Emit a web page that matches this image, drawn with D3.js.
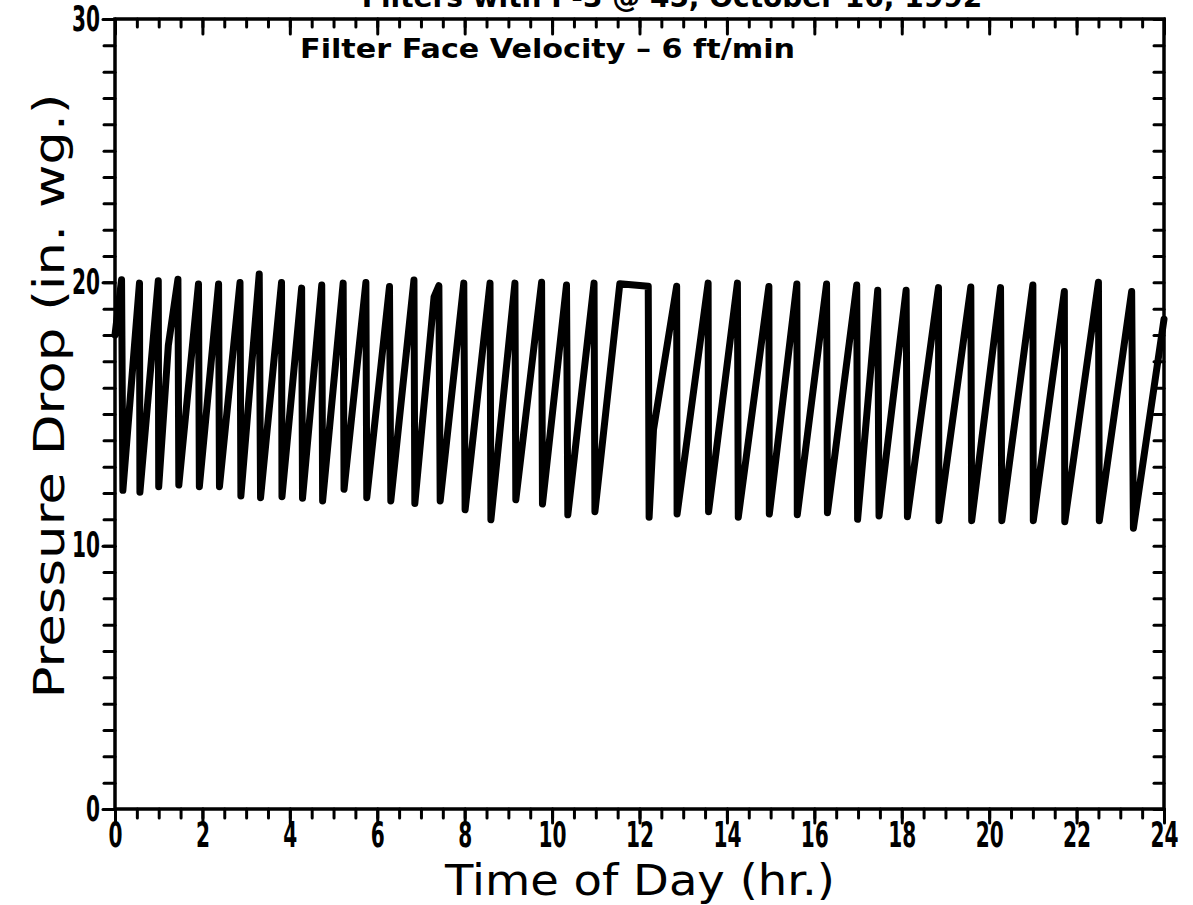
<!DOCTYPE html>
<html>
<head>
<meta charset="utf-8">
<script src="https://cdn.jsdelivr.net/npm/d3@7"></script>
<style>
  body { margin: 0; background: #fff; }
  svg { display: block; }
  .tick text { font-family: "DejaVu Sans", sans-serif; font-weight: bold; }
</style>
</head>
<body>
<svg id="chart" width="1193" height="905"></svg>
<script>
// readings: time of day (hr) and pressure drop (in. wg.)
var hours = [
  0, 0.15, 0.18, 0.56, 0.57, 0.99, 1.0, 1.22, 1.44, 1.46, 1.91, 1.93, 2.37, 2.39,
  2.86, 2.88, 3.30, 3.33, 3.81, 3.82, 4.27, 4.29, 4.73, 4.75, 5.22, 5.24, 5.74, 5.76,
  6.28, 6.31, 6.84, 6.86, 7.30, 7.41, 7.44, 7.98, 8.01, 8.58, 8.60, 9.15, 9.17,
  9.76, 9.78, 10.33, 10.36, 10.96, 10.98, 11.55, 12.20, 12.22, 12.32, 12.85, 12.86,
  13.57, 13.58, 14.24, 14.26, 14.96, 14.97, 15.60, 15.61, 16.28, 16.30, 16.97, 16.99,
  17.31, 17.45, 17.48, 18.10, 18.13, 18.84, 18.85, 19.58, 19.60, 20.26, 20.29,
  21.00, 21.01, 21.72, 21.73, 22.50, 22.52, 23.26, 23.30, 24
];
var pressure = [
  18.0, 20.1, 12.1, 19.97, 12.03, 20.06, 12.24, 17.6, 20.12, 12.3, 19.94, 12.24, 19.94, 12.24,
  19.99, 11.89, 20.32, 11.82, 19.99, 11.86, 19.78, 11.8, 19.9, 11.7, 19.97, 12.14, 19.99, 11.82,
  19.84, 11.7, 20.09, 11.6, 19.45, 19.87, 11.7, 19.97, 11.36, 19.97, 10.98, 19.97, 11.74,
  20.0, 11.58, 19.9, 11.17, 19.97, 11.29, 19.95, 19.85, 11.08, 14.4, 19.85, 11.2,
  19.97, 11.29, 19.97, 11.08, 19.84, 11.2, 19.94, 11.17, 19.94, 11.25, 19.9, 11.0,
  17.05, 19.7, 11.13, 19.7, 11.1, 19.8, 10.95, 19.82, 10.95, 19.8, 10.95,
  19.9, 10.95, 19.65, 10.91, 20.0, 10.95, 19.65, 10.66, 18.6
];

var xMajor = d3.range(0, 25, 2);
var xMinor = d3.range(0, 24.01, 0.5);
var yMajor = [0, 10, 20, 30];
var yMinor = d3.range(0, 31, 1);

var title = "Filters with P-3 @ 45, October 16, 1992";
var note = "Filter Face Velocity \u2013 6 ft/min";
var xTitle = "Time of Day (hr.)";
var yTitle = "Pressure Drop (in. wg.)";

const svg = d3.select("#chart");

const x = d3.scaleLinear().domain([0, 24]).range([115, 1164]);
const y = d3.scaleLinear().domain([0, 30]).range([809, 19]);

function styleAxis(g) {
  g.select(".domain").remove();
  g.selectAll(".tick line").attr("stroke", "#000").attr("stroke-width", 3)
    .attr("stroke-linecap", "round");
  // squeeze the digits, the original face is tall and narrow
  g.selectAll(".tick text").attr("fill", "#000").attr("font-size", 35)
    .attr("lengthAdjust", "spacingAndGlyphs")
    .attr("textLength", function() { return this.textContent.length ? 14 * this.textContent.length : null; });
}

// bottom: ticks hang down, labels under them
svg.append("g").attr("transform", "translate(0,809)")
  .call(d3.axisBottom(x).tickValues(xMinor).tickSize(9).tickFormat(""))
  .call(styleAxis);
svg.append("g").attr("transform", "translate(0,809)")
  .call(d3.axisBottom(x).tickValues(xMajor).tickSize(14).tickPadding(-1).tickFormat(d3.format("d")))
  .call(styleAxis);

// top: ticks go down into the plot
svg.append("g").attr("transform", "translate(0,19)")
  .call(d3.axisTop(x).tickValues(xMinor).tickSize(-8).tickFormat(""))
  .call(styleAxis);
svg.append("g").attr("transform", "translate(0,19)")
  .call(d3.axisTop(x).tickValues(xMajor).tickSize(-15).tickFormat(""))
  .call(styleAxis);

// left: ticks outside
svg.append("g").attr("transform", "translate(115,0)")
  .call(d3.axisLeft(y).tickValues(yMinor).tickSize(11).tickFormat(""))
  .call(styleAxis);
svg.append("g").attr("transform", "translate(115,0)")
  .call(d3.axisLeft(y).tickValues(yMajor).tickSize(12).tickPadding(3).tickFormat(d3.format("d")))
  .call(styleAxis);

// right: ticks inside
svg.append("g").attr("transform", "translate(1164,0)")
  .call(d3.axisRight(y).tickValues(yMinor).tickSize(-10).tickFormat(""))
  .call(styleAxis);

// frame
svg.append("rect")
  .attr("x", x(0)).attr("y", y(30))
  .attr("width", x(24) - x(0)).attr("height", y(0) - y(30))
  .attr("fill", "none").attr("stroke", "#000").attr("stroke-width", 3.5);

// the pressure trace
const line = d3.line()
  .x(function(d, i) { return x(hours[i]); })
  .y(function(d) { return y(d); });

svg.append("path")
  .datum(pressure)
  .attr("d", line)
  .attr("fill", "none")
  .attr("stroke", "#000")
  .attr("stroke-width", 7)
  .attr("stroke-linejoin", "round")
  .attr("stroke-linecap", "round");

// texts
svg.append("text")
  .attr("x", 672).attr("y", 7)
  .attr("text-anchor", "middle")
  .attr("font-family", "DejaVu Sans, sans-serif")
  .attr("font-weight", "bold")
  .attr("font-size", 28)
  .text(title);

svg.append("text")
  .attr("x", 300).attr("y", 58)
  .attr("font-family", "DejaVu Sans, sans-serif")
  .attr("font-weight", "bold")
  .attr("font-size", 26)
  .attr("textLength", 495)
  .attr("lengthAdjust", "spacingAndGlyphs")
  .text(note);

svg.append("text")
  .attr("x", 640).attr("y", 895)
  .attr("text-anchor", "middle")
  .attr("font-family", "DejaVu Sans, sans-serif")
  .attr("font-size", 42)
  .attr("textLength", 390)
  .attr("lengthAdjust", "spacingAndGlyphs")
  .text(xTitle);

svg.append("text")
  .attr("transform", "translate(64,396) rotate(-90)")
  .attr("text-anchor", "middle")
  .attr("font-family", "DejaVu Sans, sans-serif")
  .attr("font-size", 42)
  .attr("textLength", 605)
  .attr("lengthAdjust", "spacingAndGlyphs")
  .text(yTitle);
</script>
</body>
</html>
